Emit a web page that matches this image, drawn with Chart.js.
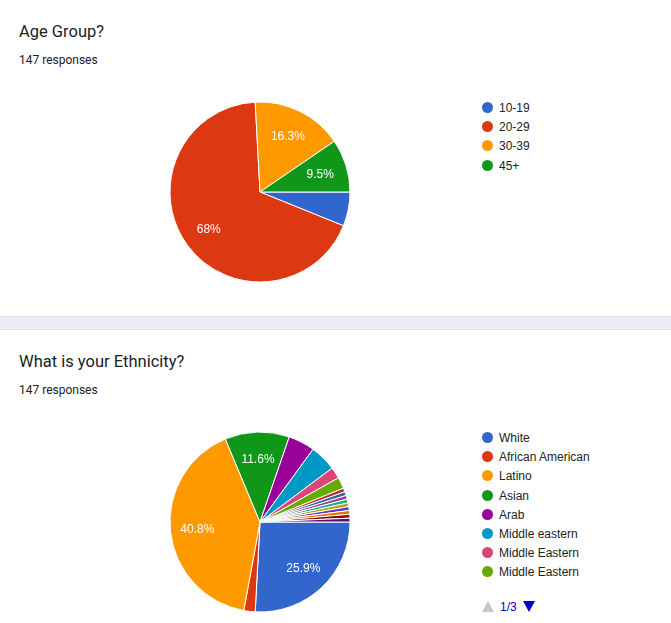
<!DOCTYPE html>
<html>
<head>
<meta charset="utf-8">
<script src="https://cdn.jsdelivr.net/npm/chart.js@4/dist/chart.umd.min.js"></script>
<style>
  html, body { margin: 0; padding: 0; background: #fff; }
  body { width: 671px; height: 623px; position: relative; overflow: hidden; font-family: Roboto, Arial, sans-serif; }
  .title { position: absolute; left: 19px; font-size: 16.5px; color: #202124; }
  .sub { position: absolute; left: 19px; font-size: 12px; color: #202124; }
  .band { position: absolute; left: 0; width: 671px; top: 316px; height: 12px;
          background: #f0ebf8; border-top: 1px solid #dadce0; border-bottom: 1px solid #dadce0; }
  .pie { position: absolute; width: 200px; height: 200px; }
  .legend { position: absolute; left: 482px; font-family: "Liberation Sans", Arial, sans-serif; font-size: 12px; color: #222; }
  .legend .row { height: 19.2px; line-height: 19.2px; white-space: nowrap; }
  .legend .dot { display: inline-block; width: 11px; height: 11px; border-radius: 50%; vertical-align: -1px; margin-right: 6px; }
  .pager { position: absolute; left: 482px; top: 599px; font-family: "Liberation Sans", Arial, sans-serif; font-size: 12px; color: #0000cc; }
  .pager span { vertical-align: middle; }
  .tri { display: inline-block; width: 0; height: 0; border-left: 6px solid transparent; border-right: 6px solid transparent; }
  .up { border-bottom: 11px solid #c6c6c6; margin-right: 6px; }
  .down { border-top: 11px solid #0000cc; margin-left: 6px; }
</style>
</head>
<body>
  <div class="title" style="top:22px">Age Group?</div>
  <div class="sub" style="top:53px">147 responses</div>
  <div class="pie" style="left:160px; top:92px"><canvas id="chart-age"></canvas></div>
  <div class="legend" id="legend-age" style="top:99px"></div>

  <div class="band"></div>

  <div class="title" style="top:352px">What is your Ethnicity?</div>
  <div class="sub" style="top:383px">147 responses</div>
  <div class="pie" style="left:160px; top:422px"><canvas id="chart-eth"></canvas></div>
  <div class="legend" id="legend-eth" style="top:429px"></div>
  <div class="pager"><span class="tri up"></span><span>1/3</span><span class="tri down"></span></div>

<script>
/* Google chart palette */
var PALETTE = ['#3366cc', '#dc3912', '#ff9900', '#109618', '#990099', '#0099c6', '#dd4477',
  '#66aa00', '#b82e2e', '#316395', '#994499', '#22aa99', '#aaaa11', '#6633cc', '#e67300',
  '#8b0707', '#651067'];

/* Age group data (147 responses) */
var ageLabels = ['10-19', '20-29', '30-39', '45+'];
var ageCounts = [9, 100, 24, 14];

/* Ethnicity data (147 responses); only the first legend page is visible */
var ethLabels = ['White', 'African American', 'Latino', 'Asian', 'Arab', 'Middle eastern',
  'Middle Eastern', 'Middle Eastern', 'Other 1', 'Other 2', 'Other 3', 'Other 4', 'Other 5',
  'Other 6', 'Other 7', 'Other 8', 'Other 9'];
var ethCounts = [38, 3, 60, 17, 7, 7, 3, 3, 1, 1, 1, 1, 1, 1, 1, 1, 1];

var LEGEND_PAGE = 8;

/* Percentage labels inside the larger slices */
var sliceLabels = {
  id: 'sliceLabels',
  afterDatasetsDraw: function(chart) {
    var ctx = chart.ctx;
    var data = chart.data.datasets[0].data;
    var total = data.reduce(function(a, b) { return a + b; }, 0);
    var meta = chart.getDatasetMeta(0);
    ctx.save();
    ctx.fillStyle = '#ffffff';
    ctx.font = '12px "Liberation Sans", Arial, sans-serif';
    ctx.textAlign = 'center';
    ctx.textBaseline = 'middle';
    meta.data.forEach(function(arc, i) {
      var frac = data[i] / total;
      if (frac < 0.08) return;
      var p = arc.getProps(['x', 'y', 'startAngle', 'endAngle', 'outerRadius'], true);
      var mid = (p.startAngle + p.endAngle) / 2;
      var r = p.outerRadius * 0.7;
      var txt = (frac * 100).toFixed(1).replace(/\.0$/, '') + '%';
      ctx.fillText(txt, p.x + Math.cos(mid) * r, p.y + Math.sin(mid) * r + 1);
    });
    ctx.restore();
  }
};

function makePie(id, labels, counts) {
  new Chart(document.getElementById(id), {
    type: 'pie',
    data: {
      labels: labels,
      datasets: [{
        data: counts,
        backgroundColor: PALETTE.slice(0, counts.length),
        borderColor: '#ffffff',
        borderWidth: 1
      }]
    },
    options: {
      responsive: true,
      maintainAspectRatio: false,
      animation: false,
      rotation: 90,
      radius: 90,
      layout: { padding: 0 },
      plugins: { legend: { display: false }, tooltip: { enabled: false } }
    },
    plugins: [sliceLabels]
  });
}

function makeLegend(id, labels) {
  var el = document.getElementById(id);
  labels.slice(0, LEGEND_PAGE).forEach(function(lab, i) {
    var row = document.createElement('div');
    row.className = 'row';
    var dot = document.createElement('span');
    dot.className = 'dot';
    dot.style.background = PALETTE[i];
    row.appendChild(dot);
    row.appendChild(document.createTextNode(lab));
    el.appendChild(row);
  });
}

makePie('chart-age', ageLabels, ageCounts);
makePie('chart-eth', ethLabels, ethCounts);
makeLegend('legend-age', ageLabels);
makeLegend('legend-eth', ethLabels);
</script>
</body>
</html>
